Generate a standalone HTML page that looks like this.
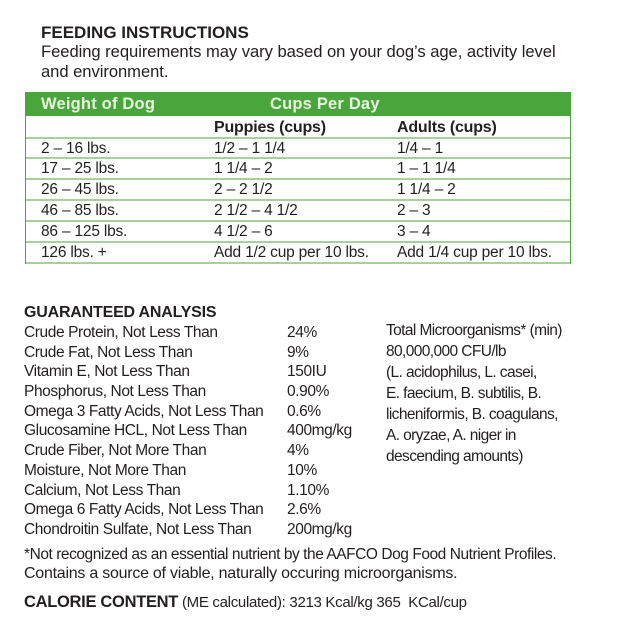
<!DOCTYPE html>
<html><head><meta charset="utf-8"><style>
body{margin:0;width:630px;height:630px;background:#fff;position:relative;overflow:hidden;font-family:"Liberation Sans",sans-serif;color:#231f20}
.t{position:absolute;white-space:nowrap;font-size:15.5px;letter-spacing:-0.2px;line-height:1}
.a{font-size:15.5px;letter-spacing:-0.4px}
.r{font-size:15.5px;letter-spacing:-0.6px}
.b{font-weight:bold}
.hl{position:absolute;left:26px;width:544px;height:2px;background:#a9cf9b}
</style></head><body>
<div class="t b" style="left:41px;top:24px;font-size:17px;letter-spacing:0px">FEEDING INSTRUCTIONS</div>
<div class="t" style="left:41px;top:44px;font-size:16.6px;letter-spacing:-0.05px">Feeding requirements may vary based on your dog’s age, activity level</div>
<div class="t" style="left:41px;top:64px;font-size:16.6px;letter-spacing:-0.05px">and environment.</div>

<div style="position:absolute;left:25px;top:92px;width:544px;height:171px;border:1px solid #4aa63c;border-top:none"></div>
<div style="position:absolute;left:25px;top:92px;width:546px;height:24px;background:#4aa63c"></div>
<div class="t b" style="left:41px;top:96px;color:#e8f5e0;font-size:16.5px;letter-spacing:0.2px">Weight of Dog</div>
<div class="t b" style="left:270px;top:96px;color:#e8f5e0;font-size:16.5px;letter-spacing:0.2px">Cups Per Day</div>
<div class="hl" style="top:137px"></div>
<div class="hl" style="top:157px"></div>
<div class="hl" style="top:178px"></div>
<div class="hl" style="top:199px"></div>
<div class="hl" style="top:220px"></div>
<div class="hl" style="top:241px"></div>
<div class="hl" style="top:262px"></div>
<div class="t b" style="left:214px;top:120px;font-size:16px">Puppies (cups)</div>
<div class="t b" style="left:397px;top:120px;font-size:16px">Adults (cups)</div>

<div class="t" style="left:41px;top:141px">2 – 16 lbs.</div><div class="t" style="left:214px;top:141px">1/2 – 1 1/4</div><div class="t" style="left:397px;top:141px">1/4 – 1</div>
<div class="t" style="left:41px;top:161px">17 – 25 lbs.</div><div class="t" style="left:214px;top:161px">1 1/4 – 2</div><div class="t" style="left:397px;top:161px">1 – 1 1/4</div>
<div class="t" style="left:41px;top:182px">26 – 45 lbs.</div><div class="t" style="left:214px;top:182px">2 – 2 1/2</div><div class="t" style="left:397px;top:182px">1 1/4 – 2</div>
<div class="t" style="left:41px;top:203px">46 – 85 lbs.</div><div class="t" style="left:214px;top:203px">2 1/2 – 4 1/2</div><div class="t" style="left:397px;top:203px">2 – 3</div>
<div class="t" style="left:41px;top:224px">86 – 125 lbs.</div><div class="t" style="left:214px;top:224px">4 1/2 – 6</div><div class="t" style="left:397px;top:224px">3 – 4</div>
<div class="t" style="left:41px;top:245px">126 lbs. +</div><div class="t" style="left:214px;top:245px">Add 1/2 cup per 10 lbs.</div><div class="t" style="left:397px;top:245px">Add 1/4 cup per 10 lbs.</div>

<div class="t b" style="left:24px;top:305px;font-size:16px;letter-spacing:-0.2px">GUARANTEED ANALYSIS</div>
<div class="t a" style="left:24px;top:325px">Crude Protein, Not Less Than</div><div class="t a" style="left:287px;top:325px">24%</div>
<div class="t a" style="left:24px;top:345px">Crude Fat, Not Less Than</div><div class="t a" style="left:287px;top:345px">9%</div>
<div class="t a" style="left:24px;top:364px">Vitamin E, Not Less Than</div><div class="t a" style="left:287px;top:364px">150IU</div>
<div class="t a" style="left:24px;top:384px">Phosphorus, Not Less Than</div><div class="t a" style="left:287px;top:384px">0.90%</div>
<div class="t a" style="left:24px;top:404px">Omega 3 Fatty Acids, Not Less Than</div><div class="t a" style="left:287px;top:404px">0.6%</div>
<div class="t a" style="left:24px;top:423px">Glucosamine HCL, Not Less Than</div><div class="t a" style="left:287px;top:423px">400mg/kg</div>
<div class="t a" style="left:24px;top:443px">Crude Fiber, Not More Than</div><div class="t a" style="left:287px;top:443px">4%</div>
<div class="t a" style="left:24px;top:463px">Moisture, Not More Than</div><div class="t a" style="left:287px;top:463px">10%</div>
<div class="t a" style="left:24px;top:483px">Calcium, Not Less Than</div><div class="t a" style="left:287px;top:483px">1.10%</div>
<div class="t a" style="left:24px;top:502px">Omega 6 Fatty Acids, Not Less Than</div><div class="t a" style="left:287px;top:502px">2.6%</div>
<div class="t a" style="left:24px;top:522px">Chondroitin Sulfate, Not Less Than</div><div class="t a" style="left:287px;top:522px">200mg/kg</div>

<div class="t r" style="left:386px;top:323px">Total Microorganisms* (min)</div>
<div class="t r" style="left:386px;top:344px">80,000,000 CFU/lb</div>
<div class="t r" style="left:386px;top:365px">(L. acidophilus, L. casei,</div>
<div class="t r" style="left:386px;top:386px">E. faecium, B. subtilis, B.</div>
<div class="t r" style="left:386px;top:407px">licheniformis, B. coagulans,</div>
<div class="t r" style="left:386px;top:428px">A. oryzae, A. niger in</div>
<div class="t r" style="left:386px;top:449px">descending amounts)</div>

<div class="t" style="left:24px;top:547px;font-size:15.5px;letter-spacing:-0.45px">*Not recognized as an essential nutrient by the AAFCO Dog Food Nutrient Profiles.</div>
<div class="t" style="left:24px;top:566px;font-size:16px;letter-spacing:-0.25px">Contains a source of viable, naturally occuring microorganisms.</div>
<div class="t" style="left:24px;top:594px;font-size:15px;letter-spacing:-0.3px"><span class="b" style="font-size:16.5px">CALORIE CONTENT</span> (ME calculated): 3213 Kcal/kg 365&nbsp; KCal/cup</div>
</body></html>
